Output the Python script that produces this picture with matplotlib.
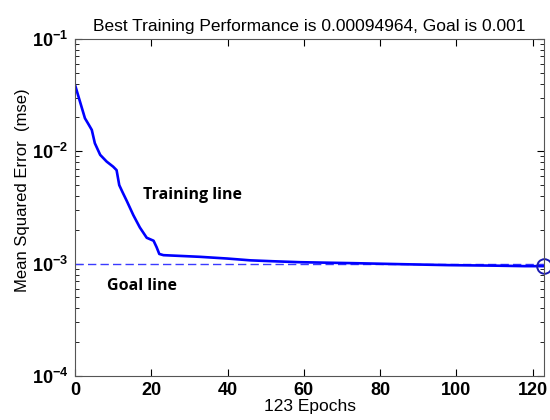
import matplotlib.pyplot as plt
import numpy as np
from matplotlib.ticker import FixedLocator, FixedFormatter, LogLocator, NullFormatter

plt.rcParams['font.family'] = 'Liberation Sans'
plt.rcParams['mathtext.fontset'] = 'custom'
plt.rcParams['mathtext.rm'] = 'Liberation Sans:bold'
plt.rcParams['mathtext.bf'] = 'Liberation Sans:bold'

# training record (epoch, mse)
epochs = [0, 1.3, 2.6, 3.5, 4.4, 5.2, 6.6, 8.3, 10, 10.9, 11.6, 12.5, 13.6,
          15.3, 17, 18.8, 20.6, 21.4, 22.1, 23.2, 28, 32.8, 40, 46, 52, 59,
          73, 85, 98, 110, 118, 123]
mse = [0.039, 0.0277, 0.0197, 0.0175, 0.0155, 0.0118, 0.0093, 0.0081,
       0.0073, 0.0068, 0.0050, 0.0043, 0.0036, 0.0027, 0.0021, 0.0017,
       0.0016, 0.0014, 0.00122, 0.00119, 0.00117, 0.00115, 0.00111,
       0.00107, 0.00105, 0.00103, 0.00101, 0.00099, 0.00097, 0.00096,
       0.00095, 0.00094964]
goal = 0.001
best = 0.00094964

fig = plt.figure(figsize=(5.5, 4.2), dpi=100)
ax = fig.add_axes([0.1364, 0.1048, 0.8527, 0.8024])

ax.plot([0, 123], [goal, goal], color='#3a3aff', lw=1.0, ls=(0, (6, 3)))
ax.plot(epochs, mse, color='#0000ff', lw=1.9)
ax.plot([123], [best], marker='o', ms=10.5, mfc='none', mec='#1a1ab0', mew=1.4,
        clip_on=False)

ax.set_yscale('log')
ax.set_xlim(0, 123)
ax.set_ylim(1e-4, 1e-1)

ax.xaxis.set_major_locator(FixedLocator([0, 20, 40, 60, 80, 100, 120]))
ax.yaxis.set_major_locator(FixedLocator([1e-4, 1e-3, 1e-2, 1e-1]))
ax.yaxis.set_major_formatter(FixedFormatter([r'$10^{-4}$', r'$10^{-3}$',
                                             r'$10^{-2}$', r'$10^{-1}$']))
ax.yaxis.set_minor_locator(LogLocator(base=10, subs=np.arange(2, 10)))
ax.yaxis.set_minor_formatter(NullFormatter())

ax.tick_params(which='both', direction='in', top=True, right=True)
ax.tick_params(which='major', length=5, width=0.8, labelsize=13, pad=4)
ax.tick_params(axis='y', which='major', pad=5)
ax.tick_params(which='minor', length=3, width=0.6)
for lab in ax.get_xticklabels():
    lab.set_fontweight('bold')
for sp in ax.spines.values():
    sp.set_color('#555555')

ax.set_title('Best Training Performance is 0.00094964, Goal is 0.001',
             fontsize=12.5, pad=6)
ax.set_xlabel('123 Epochs', fontsize=12.5, labelpad=0)
ax.set_ylabel('Mean Squared Error  (mse)', fontsize=12)
ax.yaxis.set_label_coords(-0.095, 0.552)

ax.text(17.8, 0.0041, 'Training line', family='Open Sans', fontweight='bold',
        fontsize=11.5, ha='left', va='center')
ax.text(8.4, 0.00063, 'Goal line', family='Open Sans', fontweight='bold',
        fontsize=11.5, ha='left', va='center')

fig.savefig('out.png', dpi=100)
